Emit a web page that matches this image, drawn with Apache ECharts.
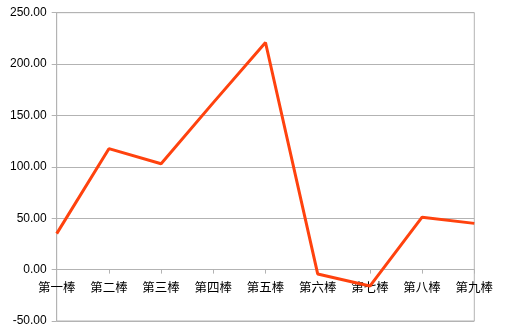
<!DOCTYPE html>
<html>
<head>
<meta charset="utf-8">
<script src="https://cdn.jsdelivr.net/npm/echarts@6/dist/echarts.min.js"></script>
<style>
html,body{margin:0;padding:0;background:#fff;}
#c{width:508px;height:335px;}
</style>
</head>
<body>
<div id="c"></div>
<script>
const categories = ['第一棒','第二棒','第三棒','第四棒','第五棒','第六棒','第七棒','第八棒','第九棒'];
const values = [35, 117.7, 103, 162.5, 221, -4.2, -16, 51, 45];
const yMin = -50, yMax = 250, yStep = 50;

const W = 508, H = 335, gTop = 12.7, gBottom = 14;
const plotH = H - gTop - gBottom;
const zeroOffset = -plotH * (0 - yMin) / (yMax - yMin);

const chart = echarts.init(document.getElementById('c'));
chart.setOption({
  animation: false,
  backgroundColor: '#fff',
  grid: {left: 56.7, right: 33.7, top: gTop, bottom: gBottom, show: true, borderColor: '#b3b3b3', borderWidth: 1, outerBoundsMode: 'none', containLabel: false},
  xAxis: {
    type: 'category', data: categories, boundaryGap: false,
    position: 'bottom', offset: zeroOffset,
    axisLine: {onZero: false, lineStyle: {color: '#b3b3b3', width: 1}},
    axisTick: {show: true, length: 4, inside: false, alignWithLabel: true, lineStyle: {color: '#b3b3b3'}},
    axisLabel: {color: '#000', fontFamily: 'Noto Sans CJK SC', fontSize: 12.5, margin: 11, interval: 0},
    splitLine: {show: false}
  },
  yAxis: {
    type: 'value', min: yMin, max: yMax, interval: yStep,
    axisLine: {show: true, lineStyle: {color: '#b3b3b3', width: 1}},
    axisTick: {show: true, length: 5, lineStyle: {color: '#b3b3b3'}},
    axisLabel: {color: '#000', fontFamily: 'Liberation Sans', fontSize: 12, margin: 10, formatter: v => v.toFixed(2)},
    splitLine: {show: true, lineStyle: {color: '#b3b3b3', width: 1}}
  },
  series: [{
    type: 'line', data: values, symbol: 'none',
    lineStyle: {color: '#ff420e', width: 3},
    itemStyle: {color: '#ff420e'}
  }]
});
</script>
</body>
</html>
